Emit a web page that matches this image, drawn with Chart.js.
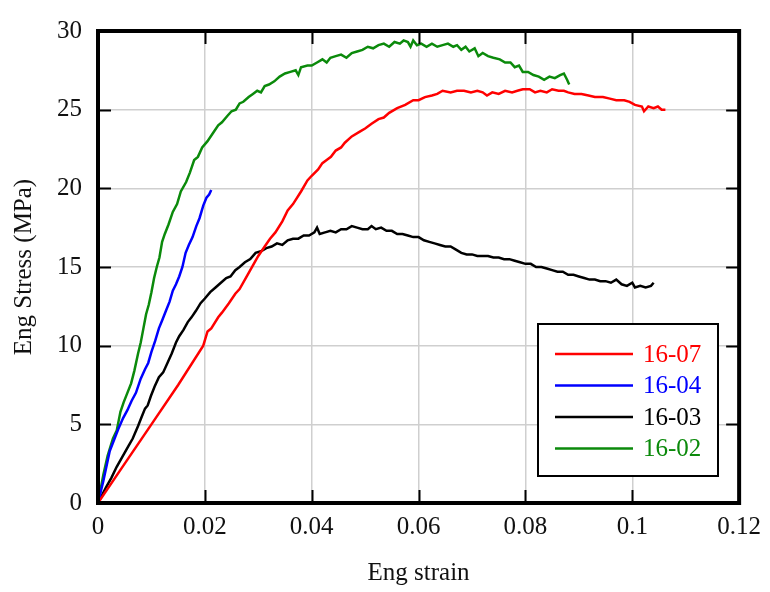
<!DOCTYPE html>
<html>
<head>
<meta charset="utf-8">
<script src="https://cdn.jsdelivr.net/npm/chart.js@4/dist/chart.umd.min.js"></script>
<style>
  html, body { margin: 0; padding: 0; background: #fff; }
  #wrap { width: 770px; height: 592px; }
</style>
</head>
<body>
<div id="wrap"><canvas id="chart" width="770" height="592"></canvas></div>
<script>
// Sample labels and colours
const sampleNames = ['16-07', '16-04', '16-03', '16-02'];
const sampleColors = ['#ff0000', '#0000ff', '#000000', '#0b8a0b'];

// Axis ticks
const strainTicks = [0, 0.02, 0.04, 0.06, 0.08, 0.1, 0.12];
const stressTicks = [0, 5, 10, 15, 20, 25, 30];

// 16-07 (red)
const strain1607 = [
  0, 0.005, 0.010, 0.015, 0.0197, 0.0205, 0.0212, 0.0225, 0.0232, 0.0245, 0.0257, 0.0265,
  0.0280, 0.0290, 0.0300, 0.0312, 0.0322, 0.0332, 0.0345, 0.0355, 0.0365, 0.0380, 0.0392,
  0.0400, 0.0412, 0.0420, 0.0428, 0.0436, 0.0445, 0.0455, 0.0462, 0.0475, 0.0490, 0.0500,
  0.0512, 0.0525, 0.0535, 0.0545, 0.0560, 0.0575, 0.0590, 0.0600, 0.0612, 0.0625, 0.0635,
  0.0645, 0.0660, 0.0672, 0.0685, 0.0698, 0.0710, 0.0720, 0.0728, 0.0738, 0.0750, 0.0762,
  0.0775, 0.0785, 0.0795, 0.0808, 0.0818, 0.0828, 0.0840, 0.0850, 0.0862, 0.0872, 0.0880,
  0.0892, 0.0905, 0.0918, 0.0930, 0.0945, 0.0958, 0.0970, 0.0985, 0.0995, 0.1005, 0.1018,
  0.1022, 0.1030, 0.1040, 0.1048, 0.1055, 0.1062,
];
const stress1607 = [
  0, 2.5, 5.0, 7.5, 10.0, 10.9, 11.1, 11.8, 12.1, 12.7, 13.3, 13.6,
  14.5, 15.1, 15.7, 16.3, 16.8, 17.2, 17.9, 18.6, 19.0, 19.8, 20.5,
  20.8, 21.2, 21.6, 21.8, 22.0, 22.4, 22.6, 22.9, 23.3, 23.6, 23.8,
  24.1, 24.4, 24.5, 24.8, 25.1, 25.3, 25.6, 25.6, 25.8, 25.9, 26.0,
  26.2, 26.1, 26.2, 26.2, 26.1, 26.2, 26.1, 25.9, 26.1, 26.0, 26.2,
  26.1, 26.2, 26.3, 26.3, 26.1, 26.2, 26.1, 26.3, 26.2, 26.2, 26.1,
  26.0, 26.0, 25.9, 25.8, 25.8, 25.7, 25.6, 25.6, 25.5, 25.3, 25.2,
  24.9, 25.2, 25.1, 25.2, 25.0, 25.0,
];

// 16-04 (blue)
const strain1604 = [
  0, 0.0010, 0.0022, 0.0030, 0.0038, 0.0047, 0.0055, 0.0063, 0.0071, 0.0080, 0.0088,
  0.0094, 0.0100, 0.0107, 0.0114, 0.0120, 0.0127, 0.0134, 0.0140, 0.0146, 0.0152, 0.0158,
  0.0164, 0.0170, 0.0177, 0.0184, 0.0190, 0.0197, 0.0203, 0.0208, 0.0212,
];
const stress1604 = [
  0, 1.4, 3.3, 4.0, 4.7, 5.4, 5.9, 6.5, 7.0, 7.9, 8.5,
  8.9, 9.6, 10.3, 11.1, 11.6, 12.2, 12.8, 13.5, 13.9, 14.4, 15.0,
  15.9, 16.4, 16.9, 17.6, 18.1, 18.9, 19.4, 19.6, 19.9,
];

// 16-03 (black)
const strain1603 = [
  0, 0.0015, 0.0025, 0.0035, 0.0045, 0.0055, 0.0065, 0.0075, 0.0082, 0.0088, 0.0093,
  0.0099, 0.0106, 0.0114, 0.0122, 0.0130, 0.0138, 0.0146, 0.0152, 0.0160, 0.0168, 0.0175,
  0.0183, 0.0192, 0.0200, 0.0210, 0.0220, 0.0230, 0.0240, 0.0248, 0.0257, 0.0265, 0.0275,
  0.0285, 0.0295, 0.0305, 0.0315, 0.0325, 0.0335, 0.0345, 0.0355, 0.0365, 0.0375, 0.0385,
  0.0395, 0.0405, 0.0410, 0.0415, 0.0425, 0.0435, 0.0445, 0.0455, 0.0465, 0.0475, 0.0485,
  0.0495, 0.0505, 0.0512, 0.0520, 0.0530, 0.0540, 0.0550, 0.0560, 0.0570, 0.0580, 0.0590,
  0.0600, 0.0610, 0.0620, 0.0630, 0.0640, 0.0650, 0.0660, 0.0670, 0.0680, 0.0690, 0.0700,
  0.0710, 0.0720, 0.0730, 0.0740, 0.0750, 0.0760, 0.0770, 0.0780, 0.0790, 0.0800, 0.0810,
  0.0820, 0.0830, 0.0840, 0.0850, 0.0860, 0.0870, 0.0880, 0.0890, 0.0900, 0.0910, 0.0920,
  0.0930, 0.0940, 0.0950, 0.0960, 0.0970, 0.0980, 0.0990, 0.1000, 0.1005, 0.1015, 0.1025,
  0.1035, 0.1040,
];
const stress1603 = [
  0, 1.0, 1.6, 2.3, 2.9, 3.5, 4.1, 4.9, 5.5, 6.0, 6.2,
  6.8, 7.4, 8.0, 8.3, 8.9, 9.5, 10.2, 10.6, 11.0, 11.5, 11.8,
  12.2, 12.7, 13.0, 13.4, 13.7, 14.0, 14.3, 14.4, 14.8, 15.0, 15.3,
  15.5, 15.9, 16.0, 16.2, 16.3, 16.5, 16.4, 16.7, 16.8, 16.8, 17.0,
  17.0, 17.2, 17.5, 17.1, 17.2, 17.3, 17.2, 17.4, 17.4, 17.6, 17.5,
  17.4, 17.4, 17.6, 17.4, 17.5, 17.3, 17.3, 17.1, 17.1, 17.0, 16.9,
  16.9, 16.7, 16.6, 16.5, 16.4, 16.3, 16.3, 16.1, 15.9, 15.8, 15.8,
  15.7, 15.7, 15.7, 15.6, 15.6, 15.5, 15.5, 15.4, 15.3, 15.2, 15.2,
  15.0, 15.0, 14.9, 14.8, 14.7, 14.7, 14.5, 14.5, 14.4, 14.3, 14.2,
  14.2, 14.1, 14.1, 14.0, 14.2, 13.9, 13.8, 14.0, 13.7, 13.8, 13.7,
  13.8, 14.0,
];

// 16-02 (green)
const strain1602 = [
  0, 0.0010, 0.0018, 0.0028, 0.0035, 0.0042, 0.0048, 0.0055, 0.0062, 0.0068, 0.0075,
  0.0080, 0.0085, 0.0090, 0.0095, 0.0100, 0.0105, 0.0110, 0.0115, 0.0120, 0.0125, 0.0132,
  0.0140, 0.0148, 0.0155, 0.0165, 0.0172, 0.0180, 0.0187, 0.0195, 0.0205, 0.0215, 0.0225,
  0.0232, 0.0242, 0.0250, 0.0258, 0.0265, 0.0272, 0.0282, 0.0290, 0.0298, 0.0305, 0.0312,
  0.0320, 0.0330, 0.0340, 0.0350, 0.0360, 0.0370, 0.0375, 0.0380, 0.0392, 0.0400, 0.0410,
  0.0420, 0.0428, 0.0435, 0.0445, 0.0455, 0.0465, 0.0475, 0.0485, 0.0495, 0.0505, 0.0515,
  0.0525, 0.0535, 0.0545, 0.0555, 0.0565, 0.0572, 0.0580, 0.0585, 0.0590, 0.0597, 0.0605,
  0.0615, 0.0625, 0.0635, 0.0645, 0.0655, 0.0665, 0.0672, 0.0680, 0.0688, 0.0695, 0.0705,
  0.0712, 0.0720, 0.0730, 0.0740, 0.0752, 0.0762, 0.0772, 0.0780, 0.0788, 0.0795, 0.0805,
  0.0815, 0.0825, 0.0835, 0.0845, 0.0855, 0.0865, 0.0872, 0.0878, 0.0882,
];
const stress1602 = [
  0, 1.8, 3.0, 4.1, 4.6, 5.8, 6.4, 7.0, 7.6, 8.4, 9.5,
  10.2, 11.1, 12.0, 12.6, 13.4, 14.3, 15.0, 15.6, 16.6, 17.1, 17.7,
  18.5, 19.0, 19.8, 20.4, 21.0, 21.8, 22.0, 22.6, 23.0, 23.5, 24.0,
  24.2, 24.6, 24.9, 25.0, 25.4, 25.5, 25.8, 26.0, 26.2, 26.1, 26.5,
  26.6, 26.8, 27.1, 27.3, 27.4, 27.5, 27.2, 27.7, 27.8, 27.8, 28.0,
  28.2, 28.0, 28.3, 28.4, 28.5, 28.3, 28.6, 28.7, 28.8, 29.0, 28.9,
  29.1, 29.2, 29.0, 29.3, 29.2, 29.4, 29.3, 29.0, 29.4, 29.1, 29.2,
  29.0, 29.2, 29.0, 29.1, 29.2, 29.0, 29.1, 28.8, 29.0, 28.7, 28.9,
  28.4, 28.6, 28.4, 28.3, 28.2, 28.0, 28.0, 27.7, 27.8, 27.4, 27.4,
  27.2, 27.1, 26.9, 27.1, 27.0, 27.2, 27.3, 26.9, 26.6,
];

const toPoints = (xs, ys) => xs.map((x, i) => ({ x, y: ys[i] }));
const seriesData = [
  toPoints(strain1607, stress1607),
  toPoints(strain1604, stress1604),
  toPoints(strain1603, stress1603),
  toPoints(strain1602, stress1602),
];

const FONT = '"Liberation Serif", "Times New Roman", serif';

// Thick frame, inward tick marks and the boxed legend
const frameAndLegend = {
  id: 'frameAndLegend',
  afterDatasetsDraw(chart) {
    const { ctx, chartArea: a, scales } = chart;
    ctx.save();
    ctx.strokeStyle = '#000';
    // inward ticks
    ctx.lineWidth = 2;
    const tl = 13;
    strainTicks.slice(1, -1).forEach((v) => {
      const x = Math.round(scales.x.getPixelForValue(v)) + 0.5;
      ctx.beginPath();
      ctx.moveTo(x, a.bottom); ctx.lineTo(x, a.bottom - tl);
      ctx.moveTo(x, a.top); ctx.lineTo(x, a.top + tl);
      ctx.stroke();
    });
    stressTicks.slice(1, -1).forEach((v) => {
      const y = Math.round(scales.y.getPixelForValue(v)) + 0.5;
      ctx.beginPath();
      ctx.moveTo(a.left, y); ctx.lineTo(a.left + tl, y);
      ctx.moveTo(a.right, y); ctx.lineTo(a.right - tl, y);
      ctx.stroke();
    });
    // frame
    ctx.lineWidth = 4;
    ctx.strokeRect(a.left, a.top, a.right - a.left, a.bottom - a.top);

    // legend box
    const bx = 538, by = 324, bw = 180, bh = 152;
    ctx.fillStyle = '#fff';
    ctx.fillRect(bx, by, bw, bh);
    ctx.lineWidth = 2;
    ctx.strokeRect(bx, by, bw, bh);
    ctx.font = '25px ' + FONT;
    ctx.textBaseline = 'middle';
    ctx.textAlign = 'left';
    sampleNames.forEach((name, i) => {
      const y = by + 30 + i * 31.5;
      ctx.lineWidth = 2.5;
      ctx.strokeStyle = sampleColors[i];
      ctx.beginPath();
      ctx.moveTo(555, y); ctx.lineTo(633, y);
      ctx.stroke();
      ctx.fillStyle = sampleColors[i];
      ctx.fillText(name, 643, y + 1);
    });
    ctx.restore();
  },
};

const ctx = document.getElementById('chart');
// eslint-disable-next-line no-unused-vars
const chart = new Chart(ctx, {
  type: 'scatter',
  data: {
    datasets: sampleNames.map((name, i) => ({
      label: name,
      data: seriesData[i],
      showLine: true,
      borderColor: sampleColors[i],
      backgroundColor: sampleColors[i],
      borderWidth: 2.5,
      pointRadius: 0,
      tension: 0,
    })),
  },
  options: {
    responsive: false,
    animation: false,
    layout: {
      padding: { top: 19, right: 25, bottom: 0, left: 0 },
    },
    scales: {
      x: {
        type: 'linear',
        min: 0,
        max: 0.12,
        afterBuildTicks: (scale) => { scale.ticks = strainTicks.map((v) => ({ value: v })); },
        afterFit: (scale) => { scale.height = 89; },
        grid: { color: '#cfcfcf', lineWidth: 1.5, drawTicks: false },
        border: { display: false },
        ticks: {
          color: '#111',
          padding: 9,
          maxRotation: 0,
          font: { family: FONT, size: 25 },
          callback: (v) => String(v),
        },
        title: {
          display: true,
          text: 'Eng strain',
          color: '#111',
          font: { family: FONT, size: 25 },
          padding: { top: 0, bottom: 4 },
        },
      },
      y: {
        min: 0,
        max: 30,
        afterBuildTicks: (scale) => { scale.ticks = stressTicks.map((v) => ({ value: v })); },
        afterFit: (scale) => { scale.width = 98; },
        grid: { color: '#cfcfcf', lineWidth: 1.5, drawTicks: false },
        border: { display: false },
        ticks: {
          color: '#111',
          padding: 16,
          font: { family: FONT, size: 25 },
        },
        title: {
          display: true,
          text: 'Eng Stress (MPa)',
          color: '#111',
          font: { family: FONT, size: 25 },
          padding: { top: 9, bottom: 0 },
        },
      },
    },
    plugins: {
      legend: { display: false },
      tooltip: { enabled: false },
    },
  },
  plugins: [frameAndLegend],
});
</script>
</body>
</html>
